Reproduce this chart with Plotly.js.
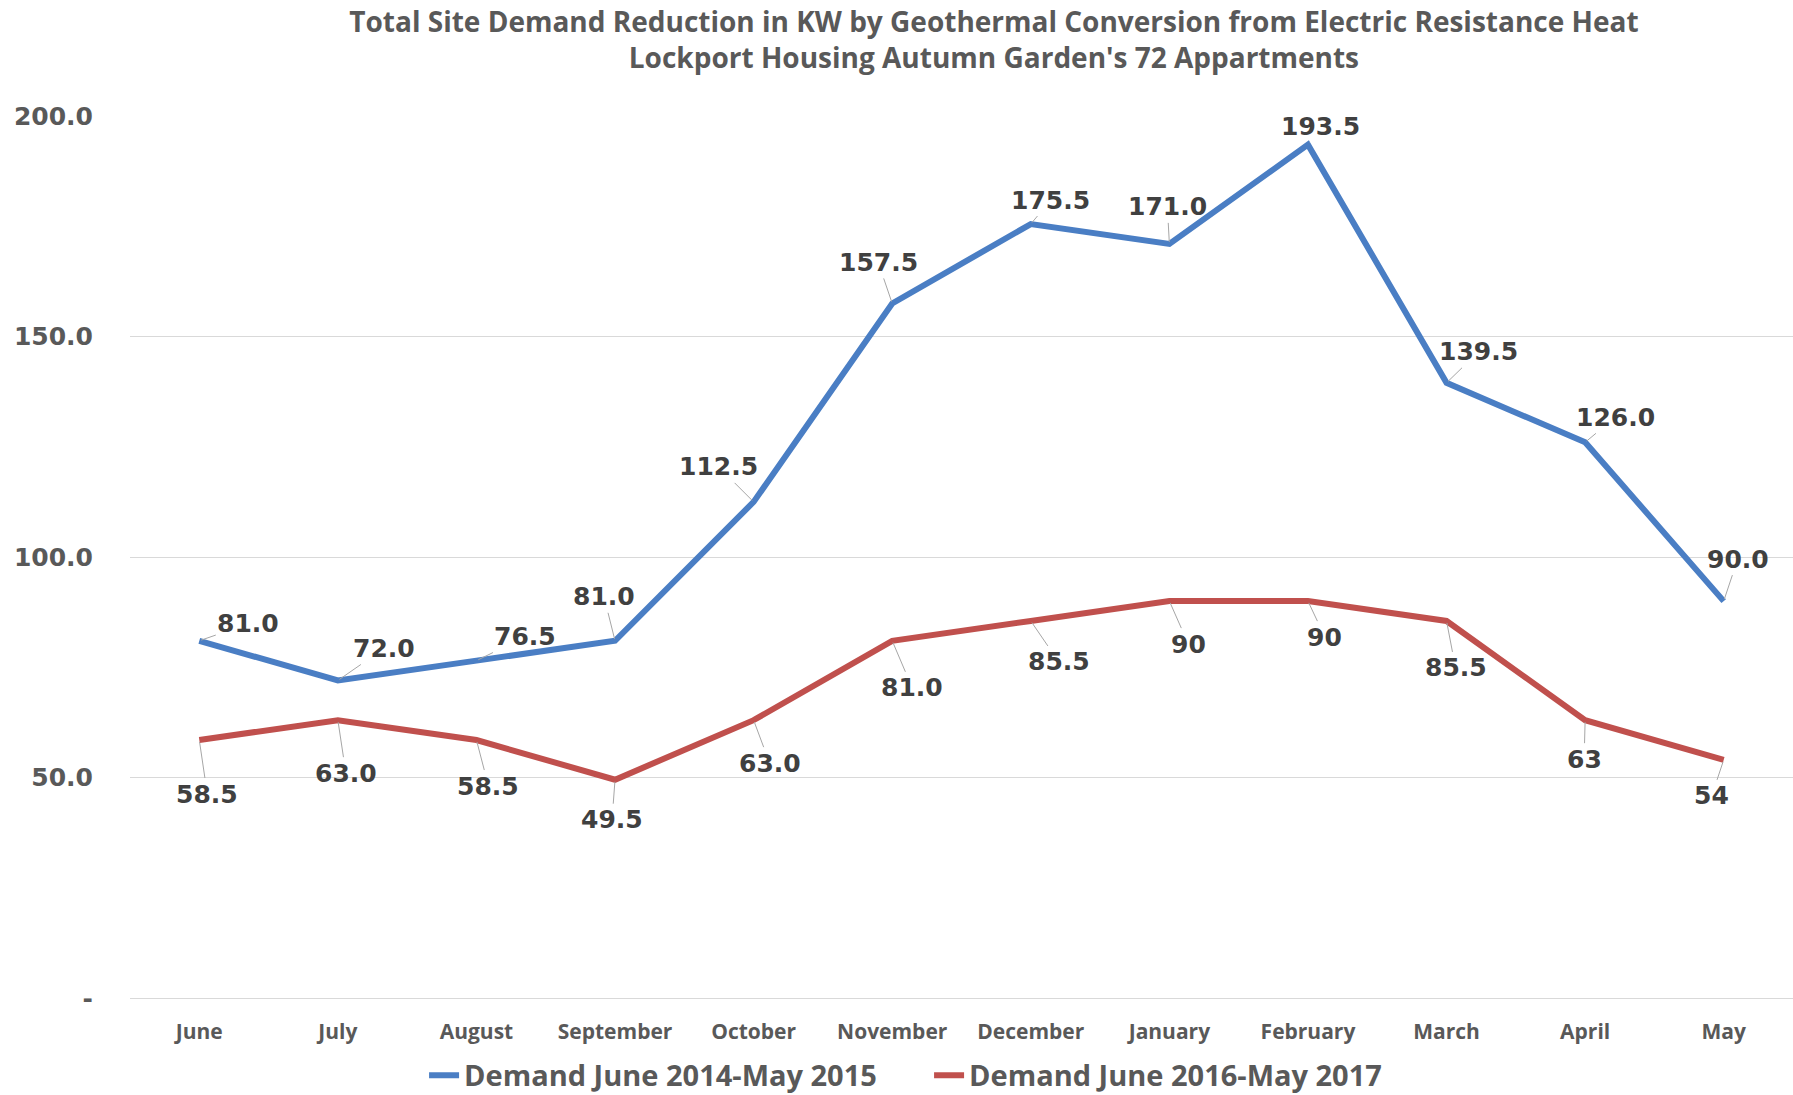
<!DOCTYPE html>
<html>
<head>
<meta charset="utf-8">
<script src="https://cdn.plot.ly/plotly-3.0.1.min.js"></script>
<style>html,body{margin:0;padding:0;background:#fff;}#chart{width:1793px;height:1095px;}</style>
</head>
<body>
<div id="chart"></div>
<script>
const months = ["June","July","August","September","October","November","December","January","February","March","April","May"];
const demand2014 = [81.0, 72.0, 76.5, 81.0, 112.5, 157.5, 175.5, 171.0, 193.5, 139.5, 126.0, 90.0];
const demand2016 = [58.5, 63.0, 58.5, 49.5, 63.0, 81.0, 85.5, 90, 90, 85.5, 63, 54];
const labels2014 = ["81.0","72.0","76.5","81.0","112.5","157.5","175.5","171.0","193.5","139.5","126.0","90.0"];
const labels2016 = ["58.5","63.0","58.5","49.5","63.0","81.0","85.5","90","90","85.5","63","54"];
const yTickVals = [0, 50, 100, 150, 200];
const yTickText = ["-", "50.0", "100.0", "150.0", "200.0"];
const seriesNames = ["Demand June 2014-May 2015", "Demand June 2016-May 2017"];

// label offsets (pixels) for leader-line placement
const off2014 = [[49,-17],[46,-32],[49,-24],[-11,-44],[-35,-35],[-14,-41],[20,-24],[-2,-37],[13,-18],[32,-31],[30,-25],[14,-42]];
const off2016 = [[8,54],[8,53],[12,46],[-3,40],[16,43],[20,47],[28,41],[19,43],[17,36],[9,47],[-1,39],[-12,36]];

const labelFont = {family: "DejaVu Sans, Verdana, sans-serif", size: 25, color: "#404040"};
const annotations = [];
function addLabels(vals, labels, offs) {
  vals.forEach((v, i) => {
    annotations.push({
      x: months[i], y: v, xref: "x", yref: "y",
      text: "<b>" + labels[i] + "</b>",
      showarrow: true, arrowhead: 0, arrowwidth: 1, arrowcolor: "#a6a6a6",
      ax: offs[i][0], ay: offs[i][1], standoff: 2,
      font: labelFont
    });
  });
}
addLabels(demand2014, labels2014, off2014);
addLabels(demand2016, labels2016, off2016);

const traces = [
  {x: months, y: demand2014, type: "scatter", mode: "lines", name: seriesNames[0],
   line: {color: "#4a7ec4", width: 6}},
  {x: months, y: demand2016, type: "scatter", mode: "lines", name: seriesNames[1],
   line: {color: "#c0504d", width: 6}}
];

const layout = {
  width: 1793, height: 1095,
  paper_bgcolor: "#ffffff", plot_bgcolor: "#ffffff",
  margin: {l: 130, r: 0, t: 116, b: 97},
  title: {
    text: "<b>Total Site Demand Reduction in KW by Geothermal Conversion from Electric Resistance Heat<br>Lockport Housing Autumn Garden's 72 Appartments</b>",
    x: 0.5195, xanchor: "center", xref: "paper",
    y: 0.9708, yanchor: "middle", yref: "container",
    font: {family: "Open Sans, sans-serif", size: 28, color: "#595959"}
  },
  xaxis: {
    type: "category", range: [-0.5, 11.5], showgrid: false, zeroline: false, showline: false,
    ticks: "", tickfont: {family: "Open Sans, sans-serif", size: 21, color: "#595959", weight: "bold"},
    ticklabelstandoff: 19, fixedrange: true
  },
  yaxis: {
    range: [0, 200], tickmode: "array", tickvals: yTickVals, ticktext: yTickText,
    showgrid: true, gridcolor: "#d9d9d9", gridwidth: 1, zeroline: true, zerolinecolor: "#d9d9d9", zerolinewidth: 1,
    showline: false, ticks: "",
    tickfont: {family: "DejaVu Sans, Verdana, sans-serif", size: 25, color: "#595959", weight: "bold"},
    ticklabelstandoff: 36, fixedrange: true
  },
  showlegend: true,
  legend: {
    orientation: "h", x: 0.4805, xanchor: "center", xref: "paper",
    y: 0.018, yanchor: "middle", yref: "container",
    font: {family: "Open Sans, sans-serif", size: 29, color: "#595959", weight: "bold"},
    itemwidth: 30, entrywidth: 460, bgcolor: "rgba(0,0,0,0)"
  },
  annotations: annotations
};

Plotly.newPlot("chart", traces, layout, {displayModeBar: false, staticPlot: true});
</script>
</body>
</html>
